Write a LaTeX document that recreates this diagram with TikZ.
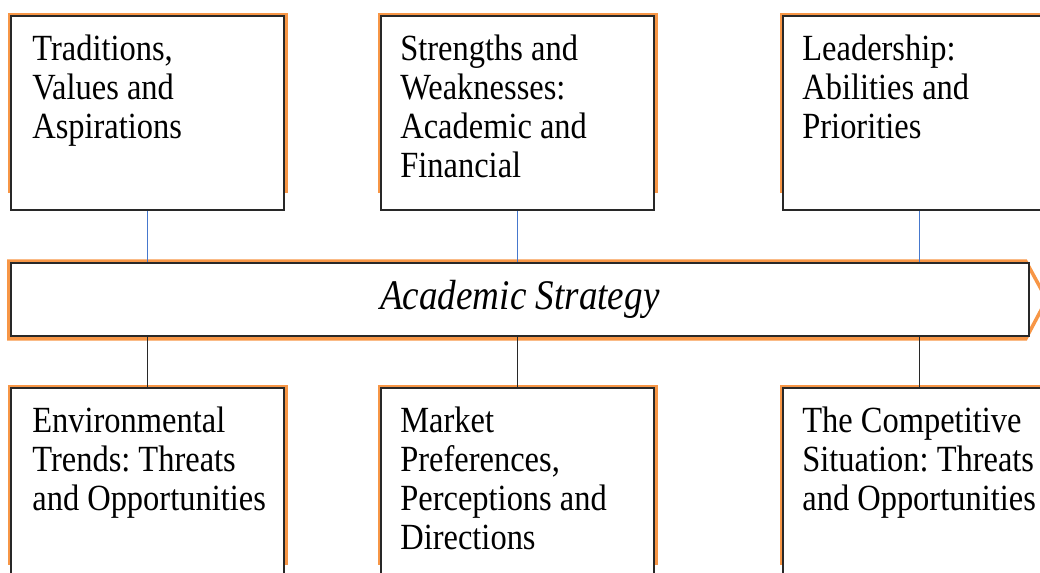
\documentclass[tikz,border=0pt]{standalone}
\usepackage{fontspec}
\setmainfont{Liberation Serif}[FakeStretch=0.88]
\usetikzlibrary{calc, backgrounds}
\definecolor{glowor}{RGB}{247, 150, 70}
\definecolor{linkblue}{RGB}{70, 120, 205}
\definecolor{edgegray}{RGB}{40, 40, 40}
\frenchspacing

\begin{document}
\begin{tikzpicture}[x=0.02cm, y=-0.02cm,
  factor/.style={draw=edgegray, line width=1.1pt, fill=white, anchor=north west,
    minimum width=5.46cm, minimum height=3.88cm, inner sep=0pt},
  factortext/.style={anchor=north west, align=left, inner sep=0pt,
    font=\fontsize{21}{22.2}\selectfont},
  glow/.style={draw=glowor, line width=1.6pt},
  uplink/.style={draw=linkblue, line width=0.9pt},
  downlink/.style={draw=edgegray, line width=0.9pt}]
  \useasboundingbox (0, 0) rectangle (1040, 572);
  \clip (0, 0) rectangle (1040, 572);

  % Internal factors
  \node[factor] (t1) at (10, 15) {};
  \node[factor] (t2) at (380, 15) {};
  \node[factor] (t3) at (782, 15) {};
  \node[factortext] (t1txt) at ([shift={(22, 20)}]t1.north west) {Traditions,\\Values and\\Aspirations};
  \node[factortext] (t2txt) at ([shift={(20, 20)}]t2.north west) {Strengths and\\Weaknesses:\\Academic and\\Financial};
  \node[factortext] (t3txt) at ([shift={(20, 20)}]t3.north west) {Leadership:\\Abilities and\\Priorities};

  % Strategy bar
  \node[draw=edgegray, line width=1.1pt, fill=white, anchor=north west, inner sep=0pt,
    minimum width=20.36cm, minimum height=1.46cm,
    font=\fontsize{24}{26}\selectfont\itshape] (bar) at (10, 262) {Academic Strategy};

  % External factors
  \node[factor] (b1) at (10, 387) {};
  \node[factor] (b2) at (380, 387) {};
  \node[factor] (b3) at (782, 387) {};
  \node[factortext] (b1txt) at ([shift={(22, 20)}]b1.north west) {Environmental\\Trends: Threats\\and Opportunities};
  \node[factortext] (b2txt) at ([shift={(20, 20)}]b2.north west) {Market\\Preferences,\\Perceptions and\\Directions};
  \node[factortext] (b3txt) at ([shift={(20, 20)}]b3.north west) {The Competitive\\Situation: Threats\\and Opportunities};

  % Links to the bar
  \foreach \b in {t1, t2, t3}
    \draw[uplink] (\b.south) -- (\b.south |- bar.north);
  \foreach \b in {b1, b2, b3}
    \draw[downlink] (\b.north |- bar.south) -- (\b.north);

  % Orange outlines behind the boxes
  \begin{pgfonlayer}{background}
    \foreach \b in {t1, t2, t3, b1, b2, b3}
      \draw[glow] ([shift={(-1, -1)}]\b.north west) rectangle ([shift={(2, -19)}]\b.south east);
    \draw[glow, line width=2pt, line join=miter]
      ([shift={(-1, -1)}]bar.north west) -- ([shift={(-4, -1)}]bar.north east)
      -- ([shift={(17, 0)}]bar.east) -- ([shift={(-4, 2)}]bar.south east)
      -- ([shift={(-1, 2)}]bar.south west) -- cycle;
  \end{pgfonlayer}
\end{tikzpicture}
\end{document}
